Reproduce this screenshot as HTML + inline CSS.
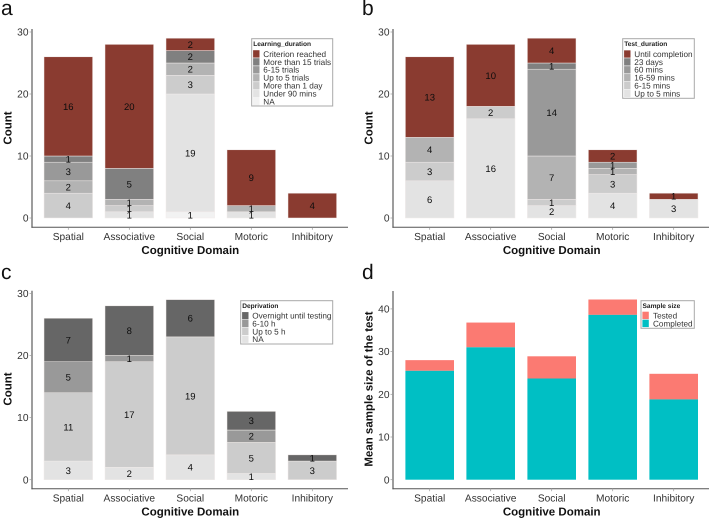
<!DOCTYPE html>
<html lang="en">
<head>
<meta charset="utf-8">
<title>Cognitive domain charts</title>
<style>
html,body{margin:0;padding:0;background:#fff;width:711px;height:520px;overflow:hidden}
svg{display:block;font-family:"Liberation Sans",sans-serif;filter:blur(0.3px);text-rendering:geometricPrecision}
</style>
</head>
<body>
<svg id="figure" width="711" height="520" viewBox="0 0 711 520" xmlns="http://www.w3.org/2000/svg"></svg>
<script>
const categories = ['Spatial', 'Associative', 'Social', 'Motoric', 'Inhibitory'];
const countTicks = [0, 10, 20, 30];
const sampleTicks = [0, 10, 20, 30, 40];

/* Panel a: series listed bottom of stack to top */
const learningNA = [0, 0, 1, 0, 0];
const learningUnder90 = [0, 1, 19, 1, 0];
const learningOneDay = [4, 1, 3, 0, 0];
const learningUpTo5 = [2, 1, 2, 1, 0];
const learning6to15 = [3, 0, 0, 0, 0];
const learningOver15 = [1, 5, 2, 0, 0];
const learningCriterion = [16, 20, 2, 9, 4];
const learningLabels = ['Criterion reached', 'More than 15 trials', '6-15 trials', 'Up to 5 trials', 'More than 1 day', 'Under 90 mins', 'NA'];

/* Panel b */
const testUpTo5 = [6, 16, 2, 4, 3];
const test6to15 = [3, 2, 1, 3, 0];
const test16to59 = [4, 0, 7, 1, 0];
const test60 = [0, 0, 14, 1, 0];
const test23days = [0, 0, 1, 0, 0];
const testUntil = [13, 10, 4, 2, 1];
const testLabels = ['Until completion', '23 days', '60 mins', '16-59 mins', '6-15 mins', 'Up to 5 mins'];

/* Panel c */
const deprivationNA = [3, 2, 4, 1, 0];
const deprivationUpTo5 = [11, 17, 19, 5, 3];
const deprivation6to10 = [5, 1, 0, 2, 0];
const deprivationOvernight = [7, 8, 6, 3, 1];
const deprivationLabels = ['Overnight until testing', '6-10 h', 'Up to 5 h', 'NA'];

/* Panel d */
const sampleCompleted = [25.5, 31, 23.7, 38.6, 18.8];
const sampleTested = [28, 36.8, 28.9, 42.2, 24.8];
const sampleLabels = ['Tested', 'Completed'];

const NS = 'http://www.w3.org/2000/svg';
const fig = document.getElementById('figure');

function make(tag, parent, name, attrs, text) {
  const el = document.createElementNS(NS, tag);
  
  
  for (const k in attrs) el.setAttribute(k, attrs[k]);
  if (text !== undefined) el.textContent = text;
  parent.appendChild(el);
  return el;
}
function slug(s) {
  return String(s).toLowerCase().replace(/[^a-z0-9]+/g, '-').replace(/^-|-$/g, '');
}

function drawAxes(g, o, ticks) {
  const y = v => o.y0 - v * o.unit;
  const x = i => o.x0 + i * 61;
  make('line', g, 'y-axis-line', {x1: o.axisX, x2: o.axisX, y1: o.top, y2: o.axisY + .5, stroke: '#7d7d7d', 'stroke-width': 1.5});
  make('line', g, 'x-axis-line', {x1: o.axisX - .5, x2: o.axisX + 316, y1: o.axisY, y2: o.axisY, stroke: '#555', 'stroke-width': 1});
  ticks.forEach(t => {
    make('line', g, 'y-tick-' + t, {x1: o.axisX - 2.5, x2: o.axisX, y1: y(t), y2: y(t), stroke: '#999', 'stroke-width': .7});
    make('text', g, 'y-tick-label-' + t, {x: o.axisX - 3.5, y: y(t) + 3.6, 'text-anchor': 'end', 'font-size': 10.2, fill: '#333'}, t);
  });
  categories.forEach((c, i) => {
    make('line', g, 'x-tick-' + slug(c), {x1: x(i), x2: x(i), y1: o.axisY, y2: o.axisY + 2.5, stroke: '#999', 'stroke-width': .7});
    make('text', g, 'x-tick-label-' + slug(c), {x: x(i), y: o.axisY + 12.8, 'text-anchor': 'middle', 'font-size': 10.2, fill: '#333'}, c);
  });
  make('text', g, 'x-axis-title', {x: o.x0 + 122, y: o.axisY + 26.8, 'text-anchor': 'middle', 'font-size': 11.5, 'font-weight': 'bold', fill: '#111'}, 'Cognitive Domain');
  const cy = o.titleY;
  make('text', g, 'y-axis-title', {x: o.yTitleX, y: cy, 'text-anchor': 'middle', 'font-size': 11.5, 'font-weight': 'bold', fill: '#111', transform: 'rotate(-90 ' + o.yTitleX + ' ' + cy + ')'}, o.yTitle);
  make('text', g, 'panel-letter', {x: o.letterX, y: o.letterY, 'font-size': 21, fill: '#111'}, o.letter);
}

function drawStack(g, o, series, colors) {
  const y = v => o.y0 - v * o.unit;
  const x = i => o.x0 + i * 61;
  categories.forEach((c, i) => {
    let base = 0;
    series.forEach((s, k) => {
      const v = s[i];
      if (!v) return;
      make('rect', g, 'bar-' + slug(c) + '-segment-' + k, {x: x(i) - 24.3, y: y(base + v), width: 48.6, height: v * o.unit, fill: colors[k], stroke: '#f1ecea', 'stroke-width': .5});
      base += v;
    });
    base = 0;
    series.forEach((s, k) => {
      const v = s[i];
      if (!v) return;
      make('text', g, 'value-' + slug(c) + '-segment-' + k, {x: x(i), y: y(base + v / 2) + 3.4, 'text-anchor': 'middle', 'font-size': 9.5, fill: '#0d0d0d'}, v);
      base += v;
    });
  });
}

function drawOverlap(g, o, lower, upper, lowerColor, upperColor) {
  const y = v => o.y0 - v * o.unit;
  const x = i => o.x0 + i * 61;
  categories.forEach((c, i) => {
    make('rect', g, 'bar-tested-' + slug(c), {x: x(i) - 24.3, y: y(upper[i]), width: 48.6, height: (upper[i] - lower[i]) * o.unit, fill: upperColor});
    make('rect', g, 'bar-completed-' + slug(c), {x: x(i) - 24.3, y: y(lower[i]), width: 48.6, height: lower[i] * o.unit, fill: lowerColor});
  });
}

function drawLegend(g, l, title, labels, colors) {
  const lg = make('g', g, 'legend', {});
  make('rect', lg, 'legend-box', {x: l.x, y: l.y, width: l.w, height: l.h, fill: '#fff', stroke: '#a8a8a8', 'stroke-width': 1});
  make('text', lg, 'legend-title', {x: l.x + 1.5, y: l.y + 7.2, 'font-size': 6.6, 'font-weight': 'bold', fill: '#222'}, title);
  labels.forEach((t, k) => {
    const cy = l.first + k * l.step;
    make('rect', lg, 'legend-swatch-' + slug(t), {x: l.x + 1.4, y: cy - l.step / 2 + .3, width: 6.4, height: l.step - .6, fill: colors[k]});
    make('text', lg, 'legend-entry-' + slug(t), {x: l.textX, y: cy + 2.9, 'font-size': 8.2, fill: '#333'}, t);
  });
}

/* Panel a */
const gA = make('g', fig, 'panel-a-learning-duration', {});
const optA = {x0: 68.3, y0: 218, unit: 6.2, axisX: 32, axisY: 227.3, top: 29, titleY: 128, yTitleX: 11.5, yTitle: 'Count', letter: 'a', letterX: 1, letterY: 15};
drawStack(gA, optA, [learningNA, learningUnder90, learningOneDay, learningUpTo5, learning6to15, learningOver15, learningCriterion], ['#f2f2f2', '#e3e3e3', '#cccccc', '#b3b3b3', '#999999', '#808080', '#8a3b30']);
drawAxes(gA, optA, countTicks);
drawLegend(gA, {x: 251.7, y: 38.7, w: 81, h: 67.3, first: 53.9, step: 7.97, textX: 263.3}, 'Learning_duration', learningLabels, ['#8a3b30', '#808080', '#999999', '#b3b3b3', '#cccccc', '#e3e3e3', '#f2f2f2']);

/* Panel b */
const gB = make('g', fig, 'panel-b-test-duration', {});
const optB = {x0: 429.7, y0: 218, unit: 6.2, axisX: 393, axisY: 227.3, top: 29, titleY: 128, yTitleX: 372.5, yTitle: 'Count', letter: 'b', letterX: 362, letterY: 15};
drawStack(gB, optB, [testUpTo5, test6to15, test16to59, test60, test23days, testUntil], ['#e3e3e3', '#cccccc', '#b3b3b3', '#999999', '#808080', '#8a3b30']);
drawAxes(gB, optB, countTicks);
drawLegend(gB, {x: 622.7, y: 38.7, w: 71.6, h: 59.6, first: 54, step: 7.9, textX: 634.3}, 'Test_duration', testLabels, ['#8a3b30', '#808080', '#999999', '#b3b3b3', '#cccccc', '#e3e3e3']);

/* Panel c */
const gC = make('g', fig, 'panel-c-deprivation', {});
const optC = {x0: 68.3, y0: 479.7, unit: 6.21, axisX: 32, axisY: 488.7, top: 290.7, titleY: 389, yTitleX: 11.5, yTitle: 'Count', letter: 'c', letterX: 1, letterY: 279};
drawStack(gC, optC, [deprivationNA, deprivationUpTo5, deprivation6to10, deprivationOvernight], ['#e3e3e3', '#cccccc', '#999999', '#666666']);
drawAxes(gC, optC, countTicks);
drawLegend(gC, {x: 240.7, y: 300.7, w: 92, h: 43.3, first: 315.7, step: 7.85, textX: 252.3}, 'Deprivation', deprivationLabels, ['#666666', '#999999', '#cccccc', '#e3e3e3']);

/* Panel d */
const gD = make('g', fig, 'panel-d-sample-size', {});
const optD = {x0: 429.7, y0: 479.7, unit: 4.27, axisX: 393, axisY: 488.7, top: 291, titleY: 389, yTitleX: 372.5, yTitle: 'Mean sample size of the test', letter: 'd', letterX: 362, letterY: 279};
drawOverlap(gD, optD, sampleCompleted, sampleTested, '#00bfc4', '#fb7a72');
drawAxes(gD, optD, sampleTicks);
drawLegend(gD, {x: 641, y: 300.7, w: 53.3, h: 27.6, first: 315.4, step: 8, textX: 653}, 'Sample size', sampleLabels, ['#fb7a72', '#00bfc4']);
</script>
</body>
</html>
